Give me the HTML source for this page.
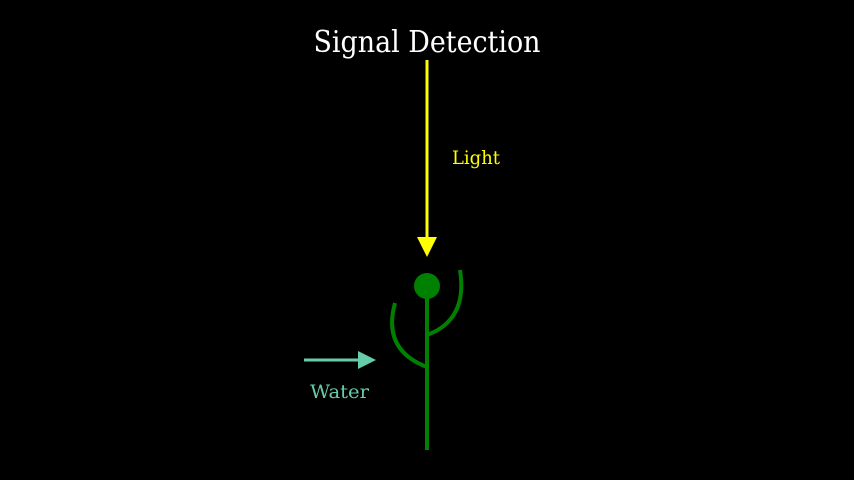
<!DOCTYPE html>
<html><head><style>html,body{margin:0;padding:0;background:#000;width:854px;height:480px;overflow:hidden}</style></head>
<body>
<svg width="854" height="480" viewBox="0 0 854 480" xmlns="http://www.w3.org/2000/svg">
<rect width="854" height="480" fill="#000"/>
<text x="427" y="52" fill="#fff" font-family="DejaVu Serif, Liberation Serif, serif" font-size="30" text-anchor="middle" textLength="227" lengthAdjust="spacingAndGlyphs">Signal Detection</text>
<line x1="427" y1="60" x2="427" y2="240" stroke="#ffff00" stroke-width="3"/>
<polygon points="417,237 437,237 427,257" fill="#ffff00"/>
<text x="452" y="164" fill="#ffff00" font-family="DejaVu Serif, Liberation Serif, serif" font-size="19" textLength="48" lengthAdjust="spacingAndGlyphs">Light</text>
<line x1="427" y1="298" x2="427" y2="450" stroke="#008000" stroke-width="4"/>
<circle cx="427" cy="286" r="13" fill="#008000"/>
<path d="M427,335 Q468,320 460,270" fill="none" stroke="#008000" stroke-width="4"/>
<path d="M427,367 Q382,350 395,303" fill="none" stroke="#008000" stroke-width="4"/>
<line x1="304" y1="360" x2="360" y2="360" stroke="#66ccaa" stroke-width="3"/>
<polygon points="358,351 376,360 358,369" fill="#66ccaa"/>
<text x="310" y="398" fill="#66ccaa" font-family="DejaVu Serif, Liberation Serif, serif" font-size="19" textLength="59" lengthAdjust="spacingAndGlyphs">Water</text>
</svg>
</body></html>
